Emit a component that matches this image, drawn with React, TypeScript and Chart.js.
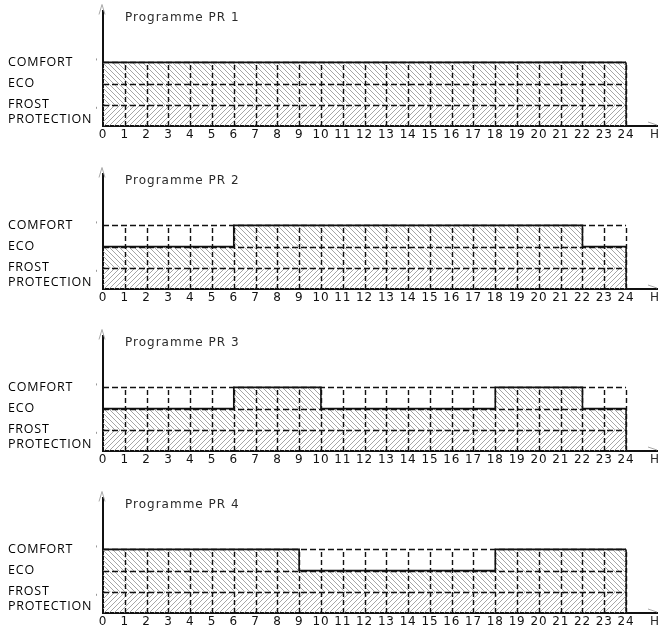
import React, { useEffect, useRef } from 'react';
import { Chart, registerables } from 'chart.js';

Chart.register(...registerables);

// ---------- data ----------
const HOURS = [0, 1, 2, 3, 4, 5, 6, 7, 8, 9, 10, 11, 12, 13, 14, 15, 16, 17, 18, 19, 20, 21, 22, 23, 24];
const GRID_HOURS = [1, 2, 3, 4, 5, 6, 7, 8, 9, 10, 11, 12, 13, 14, 15, 16, 17, 18, 19, 20, 21, 22, 23, 24];
const GRID_LEVELS = [1, 2, 3];
const LEVEL_FROST = 1;
const Y_TICK_VALUES = [3, 2, 1, 0.33];
const Y_TICK_LABELS = ['COMFORT', 'ECO', 'FROST', 'PROTECTION'];
const PANEL_TITLES = ['Programme PR 1', 'Programme PR 2', 'Programme PR 3', 'Programme PR 4'];
const AXIS_UNIT = 'H';

// hourly level (hour h applies from h to h+1): 3 = comfort, 2 = eco
const PR1 = [3, 3, 3, 3, 3, 3, 3, 3, 3, 3, 3, 3, 3, 3, 3, 3, 3, 3, 3, 3, 3, 3, 3, 3];
const PR2 = [2, 2, 2, 2, 2, 2, 3, 3, 3, 3, 3, 3, 3, 3, 3, 3, 3, 3, 3, 3, 3, 3, 2, 2];
const PR3 = [2, 2, 2, 2, 2, 2, 3, 3, 3, 3, 2, 2, 2, 2, 2, 2, 2, 2, 3, 3, 3, 3, 2, 2];
const PR4 = [3, 3, 3, 3, 3, 3, 3, 3, 3, 2, 2, 2, 2, 2, 2, 2, 2, 2, 3, 3, 3, 3, 3, 3];
const PROGRAMS = [PR1, PR2, PR3, PR4];

// ---------- layout ----------
const PANEL_TOPS = [0, 163, 325, 487];
const W = 665;
const H = 143;

function makeHatch(dir: 'up' | 'down'): CanvasPattern | string {
  const s = 5;
  const c = document.createElement('canvas');
  c.width = s;
  c.height = s;
  const g = c.getContext('2d');
  if (!g) return '#ccc';
  g.strokeStyle = '#9c9c9c';
  g.lineWidth = 0.9;
  g.beginPath();
  if (dir === 'down') {
    g.moveTo(-1, -1); g.lineTo(s + 1, s + 1);
    g.moveTo(-1, s - 1); g.lineTo(1, s + 1);
    g.moveTo(s - 1, -1); g.lineTo(s + 1, 1);
  } else {
    g.moveTo(-1, s + 1); g.lineTo(s + 1, -1);
    g.moveTo(-1, 1); g.lineTo(1, -1);
    g.moveTo(s - 1, s + 1); g.lineTo(s + 1, s - 1);
  }
  g.stroke();
  return g.createPattern(c, 'repeat') || '#ccc';
}

function Panel({ idx }: { idx: number }) {
  const ref = useRef<HTMLCanvasElement>(null);
  useEffect(() => {
    const canvas = ref.current;
    if (!canvas) return;
    const levels = PROGRAMS[idx];
    const last = levels[levels.length - 1];
    const stepData = HOURS.map((h) => ({ x: h, y: levels[Math.min(h, levels.length - 1)] }));
    const frostData = HOURS.map((h) => ({ x: h, y: LEVEL_FROST }));
    const edgeData = [{ x: HOURS[HOURS.length - 1], y: last }, { x: HOURS[HOURS.length - 1], y: 0 }];
    const hatchUp = makeHatch('up');
    const hatchDown = makeHatch('down');

    const deco = {
      id: 'deco' + idx,
      beforeDraw(chart: any) {
        chart.ctx.letterSpacing = '0.8px';
      },
      beforeDatasetsDraw(chart: any) {
        chart.ctx.letterSpacing = '0px';
      },
      afterDatasetsDraw(chart: any) {
        const { ctx, scales } = chart;
        const xs = scales.x;
        const ys = scales.y;
        const top = GRID_LEVELS[GRID_LEVELS.length - 1];
        ctx.save();
        ctx.strokeStyle = '#111';
        ctx.lineWidth = 1.4;
        ctx.setLineDash([5, 3]);
        ctx.beginPath();
        GRID_HOURS.forEach((h) => {
          const px = Math.round(xs.getPixelForValue(h)) + 0.5;
          ctx.moveTo(px, ys.getPixelForValue(0));
          ctx.lineTo(px, ys.getPixelForValue(top));
        });
        ctx.stroke();
        ctx.setLineDash([6, 3]);
        ctx.beginPath();
        GRID_LEVELS.forEach((lv) => {
          const py = Math.round(ys.getPixelForValue(lv)) + 0.5;
          ctx.moveTo(xs.getPixelForValue(0), py);
          ctx.lineTo(xs.getPixelForValue(HOURS[HOURS.length - 1]), py);
        });
        ctx.stroke();
        ctx.restore();
      },
      afterDraw(chart: any) {
        const { ctx, chartArea, scales } = chart;
        ctx.save();
        // title
        ctx.letterSpacing = '1px';
        ctx.fillStyle = '#2a2a2a';
        ctx.font = '12px "DejaVu Sans"';
        ctx.textBaseline = 'middle';
        ctx.textAlign = 'left';
        ctx.fillText(PANEL_TITLES[idx], chartArea.left + 22, 18);
        // unit
        ctx.textAlign = 'center';
        ctx.fillText(AXIS_UNIT, chartArea.right - 2, chartArea.bottom + 9);
        ctx.letterSpacing = '0px';
        // arrows
        ctx.strokeStyle = '#a8a8a8';
        ctx.lineWidth = 1;
        ctx.beginPath();
        ctx.moveTo(chartArea.left - 4, chartArea.top + 4);
        ctx.lineTo(chartArea.left - 1, chartArea.top - 6);
        ctx.lineTo(chartArea.left + 2, chartArea.top + 4);
        ctx.moveTo(chartArea.right - 9, chartArea.bottom - 4);
        ctx.lineTo(chartArea.right, chartArea.bottom - 1);
        ctx.stroke();
        // tiny marks next to the axis
        ctx.fillStyle = '#9a9a9a';
        const ys = scales.y;
        ctx.fillRect(chartArea.left - 7, ys.getPixelForValue(3) - 4, 1, 2);
        ctx.fillRect(chartArea.left - 7, ys.getPixelForValue(1) + 2, 1, 2);
        ctx.restore();
      },
    };

    const chart = new Chart(canvas, {
      type: 'line',
      data: {
        datasets: [
          {
            data: frostData,
            fill: 'origin',
            backgroundColor: hatchUp as any,
            borderWidth: 0,
            pointRadius: 0,
          },
          {
            data: stepData,
            stepped: 'before',
            fill: '-1',
            backgroundColor: hatchDown as any,
            borderColor: '#111',
            borderWidth: 1.6,
            pointRadius: 0,
          },
          {
            data: edgeData,
            fill: false,
            borderColor: '#111',
            borderWidth: 1.6,
            pointRadius: 0,
          },
        ],
      },
      options: {
        responsive: false,
        animation: false,
        events: [],
        layout: { padding: { left: 8, right: 8, top: 9, bottom: 0 } },
        plugins: {
          legend: { display: false },
          tooltip: { enabled: false },
          title: { display: false },
        },
        scales: {
          x: {
            type: 'linear',
            min: 0,
            max: 25.42,
            grid: { display: false, drawTicks: false },
            border: { display: true, color: '#111', width: 2 },
            afterBuildTicks: (s: any) => {
              s.ticks = HOURS.map((v) => ({ value: v }));
            },
            afterFit: (s: any) => {
              s.height = 17;
            },
            ticks: {
              autoSkip: false,
              maxRotation: 0,
              minRotation: 0,
              padding: 2,
              color: '#111',
              font: { family: 'DejaVu Sans', size: 12 },
              callback: (v: any) => String(v),
            },
          },
          y: {
            type: 'linear',
            min: 0,
            max: 5.45,
            z: 1,
            grid: { display: false, drawTicks: false },
            border: { display: true, color: '#111', width: 2 },
            afterBuildTicks: (s: any) => {
              s.ticks = Y_TICK_VALUES.map((v) => ({ value: v }));
            },
            afterFit: (s: any) => {
              s.width = 95;
            },
            ticks: {
              autoSkip: false,
              crossAlign: 'far',
              color: '#000',
              font: { family: 'Open Sans', size: 12.5 },
              callback: (_v: any, i: number) => Y_TICK_LABELS[i],
            },
          },
        },
      },
      plugins: [deco],
    } as any);
    return () => chart.destroy();
  }, [idx]);

  return (
    <canvas
      ref={ref}
      width={W}
      height={H}
      style={{ position: 'absolute', left: 0, top: PANEL_TOPS[idx], width: W, height: H }}
    />
  );
}

export default function App() {
  return (
    <div style={{ position: 'absolute', left: 0, top: 0, width: W, height: 630, background: '#fff' }}>
      {PROGRAMS.map((_, i) => (
        <Panel key={i} idx={i} />
      ))}
    </div>
  );
}
